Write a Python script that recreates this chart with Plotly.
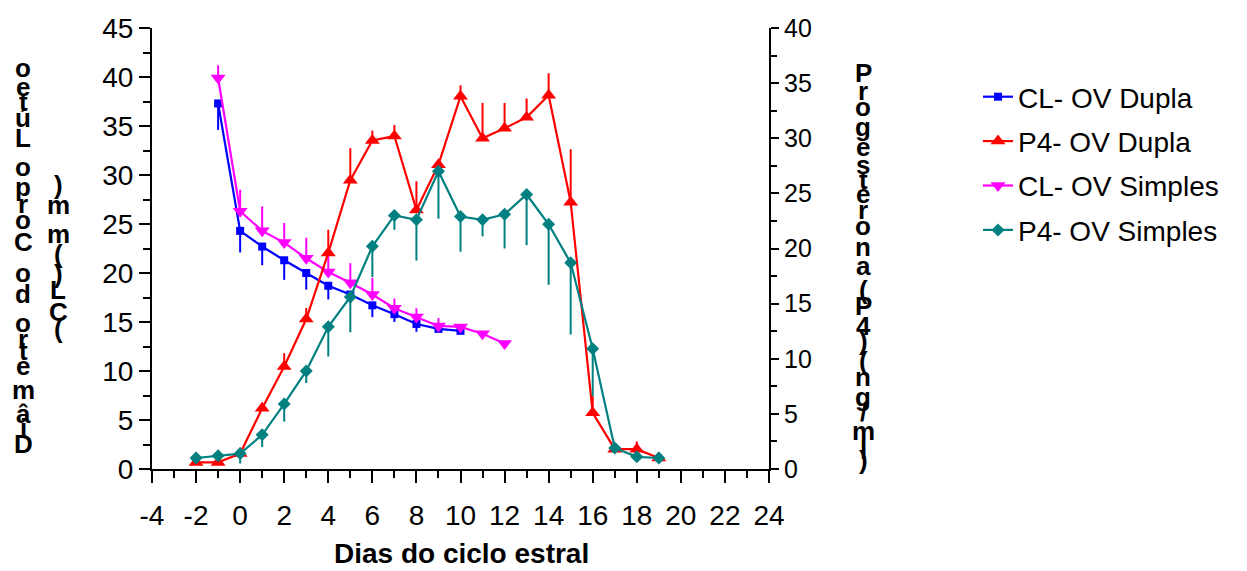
import plotly.graph_objects as go

# ---------------- data ----------------
cl_dupla_x = [-1, 0, 1, 2, 3, 4, 5, 6, 7, 8, 9, 10]
cl_dupla_y = [37.3, 24.3, 22.7, 21.3, 20.0, 18.7, 17.8, 16.7, 15.8, 14.8, 14.3, 14.1]
cl_dupla_err = [2.7, 2.2, 1.9, 2.0, 1.7, 1.4, 0.8, 1.2, 0.8, 0.8, 0.3, 0.2]

p4_dupla_x = [-2, -1, 0, 1, 2, 3, 4, 5, 6, 7, 8, 9, 10, 11, 12, 13, 14, 15, 16, 17, 18, 19]
p4_dupla_y = [0.6, 0.6, 1.4, 5.5, 9.3, 13.6, 19.6, 26.2, 29.8, 30.2, 23.5, 27.6, 33.8, 30.0,
              30.9, 31.9, 33.9, 24.2, 5.1, 1.8, 1.8, 1.0]
p4_dupla_err = [0.0, 0.0, 0.0, 0.5, 1.2, 1.0, 2.1, 2.9, 0.9, 1.0, 2.6, 0.4, 1.0, 3.2,
                2.3, 1.7, 2.0, 4.8, 1.5, 0.2, 0.7, 0.1]

cl_simples_x = [-1, 0, 1, 2, 3, 4, 5, 6, 7, 8, 9, 10, 11, 12]
cl_simples_y = [39.9, 26.3, 24.3, 23.1, 21.5, 20.1, 19.0, 17.8, 16.4, 15.5, 14.6, 14.5, 13.8, 12.8]
cl_simples_err = [1.3, 2.2, 2.5, 2.0, 2.1, 1.8, 2.0, 1.7, 1.0, 0.9, 0.8, 0.3, 0.2, 0.2]

p4_simples_x = [-2, -1, 0, 1, 2, 3, 4, 5, 6, 7, 8, 9, 10, 11, 12, 13, 14, 15, 16, 17, 18, 19]
p4_simples_y = [1.0, 1.2, 1.4, 3.1, 5.9, 8.9, 12.9, 15.6, 20.2, 23.0, 22.6, 27.0, 22.9, 22.6,
                23.1, 24.9, 22.2, 18.7, 10.9, 1.9, 1.1, 1.0]
p4_simples_err = [0.1, 0.1, 0.9, 1.1, 1.6, 1.1, 2.7, 3.2, 2.8, 1.3, 3.7, 4.3, 3.2, 1.5,
                  3.1, 4.6, 5.5, 6.5, 4.3, 0.2, 0.1, 0.1]

x_tick_vals = [-4, -2, 0, 2, 4, 6, 8, 10, 12, 14, 16, 18, 20, 22, 24]
x_tick_text = ["-4", "-2", "0", "2", "4", "6", "8", "10", "12", "14", "16", "18", "20", "22", "24"]

left_title = ["Diâmetro do Corpo Lúteo", "(CL) (mm)"]
right_title = "Progesterona (P4) (ng/ml)"
x_title = "Dias do ciclo estral"

# ---------------- layout geometry (screen pixels; page has an 8px body offset) ----------------
W, H = 1247, 571
OFF = 8
L_PX, R_PX, T_PX, B_PX = 152, 769, 28, 469
FONT = "Arial, Liberation Sans, sans-serif"


def px_x(px):
    return (px - L_PX) / (R_PX - L_PX)


def px_y(py):
    return (B_PX - py) / (B_PX - T_PX)


fig = go.Figure()


def add(name, xs, ys, errs, color, symbol, size, up, axis):
    zeros = [0] * len(errs)
    fig.add_trace(go.Scatter(
        x=xs, y=ys, name=name, legendgroup=name, mode="lines+markers", yaxis=axis,
        line=dict(color=color, width=2.2),
        marker=dict(symbol=symbol, size=size, color=color, line=dict(width=0)),
        error_y=dict(type="data", symmetric=False,
                     array=errs if up else zeros,
                     arrayminus=zeros if up else errs,
                     color=color, thickness=2, width=0),
    ))


add("CL- OV Dupla", cl_dupla_x, cl_dupla_y, cl_dupla_err, "#0000FF", "square", 8, False, "y")
add("P4- OV Dupla", p4_dupla_x, p4_dupla_y, p4_dupla_err, "#FF0000", "triangle-up", 13, True, "y2")
add("CL- OV Simples", cl_simples_x, cl_simples_y, cl_simples_err, "#FF00FF", "triangle-down", 13, True, "y")
add("P4- OV Simples", p4_simples_x, p4_simples_y, p4_simples_err, "#008080", "diamond", 10, False, "y2")

# stacked vertical titles (characters upright, advancing by their width)
CW = {"D": 722, "i": 278, "â": 556, "m": 889, "e": 556, "t": 333, "r": 389, "o": 611, " ": 278,
      "d": 611, "C": 722, "p": 611, "L": 611, "ú": 611, "(": 333, ")": 333, "P": 667, "g": 611,
      "s": 556, "n": 611, "a": 556, "4": 556, "/": 278, "l": 278}
K = 33.0
annotations = []


def stack(text, x_px, center_py, upward):
    total = sum(CW[c] for c in text) * K / 1000
    cum = 0.0
    for c in text:
        w = CW[c] * K / 1000
        if upward:
            py = center_py + total / 2 - (cum + w / 2)
        else:
            py = center_py - total / 2 + (cum + w / 2)
        cum += w
        if c == " ":
            continue
        annotations.append(dict(text=c, xref="paper", yref="paper", x=px_x(x_px), y=px_y(py),
                                xanchor="center", yanchor="middle", showarrow=False,
                                font=dict(family=FONT, size=26, color="black", weight="bold")))


stack(left_title[0], 23, 257, True)
stack(left_title[1], 58, 257, True)
stack(right_title, 863, 264, False)

annotations.append(dict(text=x_title, xref="paper", yref="paper", x=px_x(461), y=px_y(553),
                        xanchor="center", yanchor="middle", showarrow=False,
                        font=dict(family=FONT, size=28, color="black", weight="bold")))

fig.update_layout(
    width=W, height=H,
    margin=dict(l=L_PX - OFF, r=W - (R_PX - OFF), t=T_PX - OFF, b=H - (B_PX - OFF), autoexpand=False),
    paper_bgcolor="white", plot_bgcolor="white",
    font=dict(family=FONT, color="black"),
    showlegend=True,
    legend=dict(x=px_x(978), y=px_y(72), xanchor="left", yanchor="top",
                font=dict(family=FONT, size=28, color="black"), tracegroupgap=5,
                bgcolor="rgba(0,0,0,0)", borderwidth=0),
    xaxis=dict(range=[-4, 24], tickmode="array", tickvals=x_tick_vals, ticktext=x_tick_text,
               showgrid=False, zeroline=False, showline=True, linecolor="black", linewidth=2,
               ticks="outside", ticklen=12, tickwidth=2, tickcolor="black",
               tickfont=dict(family=FONT, size=28, color="black"), ticklabelstandoff=8,
               minor=dict(tickmode="linear", tick0=-3, dtick=2, ticks="outside", ticklen=7,
                          tickwidth=2, tickcolor="black", showgrid=False)),
    yaxis=dict(range=[0, 45], tickmode="linear", tick0=0, dtick=5,
               showgrid=False, zeroline=False, showline=True, linecolor="black", linewidth=2,
               ticks="outside", ticklen=11, tickwidth=2, tickcolor="black",
               tickfont=dict(family=FONT, size=28, color="black"),
               minor=dict(tickmode="linear", tick0=2.5, dtick=5, ticks="outside", ticklen=7,
                          tickwidth=2, tickcolor="black", showgrid=False)),
    yaxis2=dict(range=[0, 40], overlaying="y", side="right", tickmode="linear", tick0=0, dtick=5,
                showgrid=False, zeroline=False, showline=True, linecolor="black", linewidth=2,
                ticks="outside", ticklen=8, tickwidth=2, tickcolor="black",
                tickfont=dict(family=FONT, size=25, color="black"),
                minor=dict(tickmode="linear", tick0=2.5, dtick=5, ticks="outside", ticklen=6,
                           tickwidth=2, tickcolor="black", showgrid=False)),
    annotations=annotations,
)

fig.write_html("out.html")
